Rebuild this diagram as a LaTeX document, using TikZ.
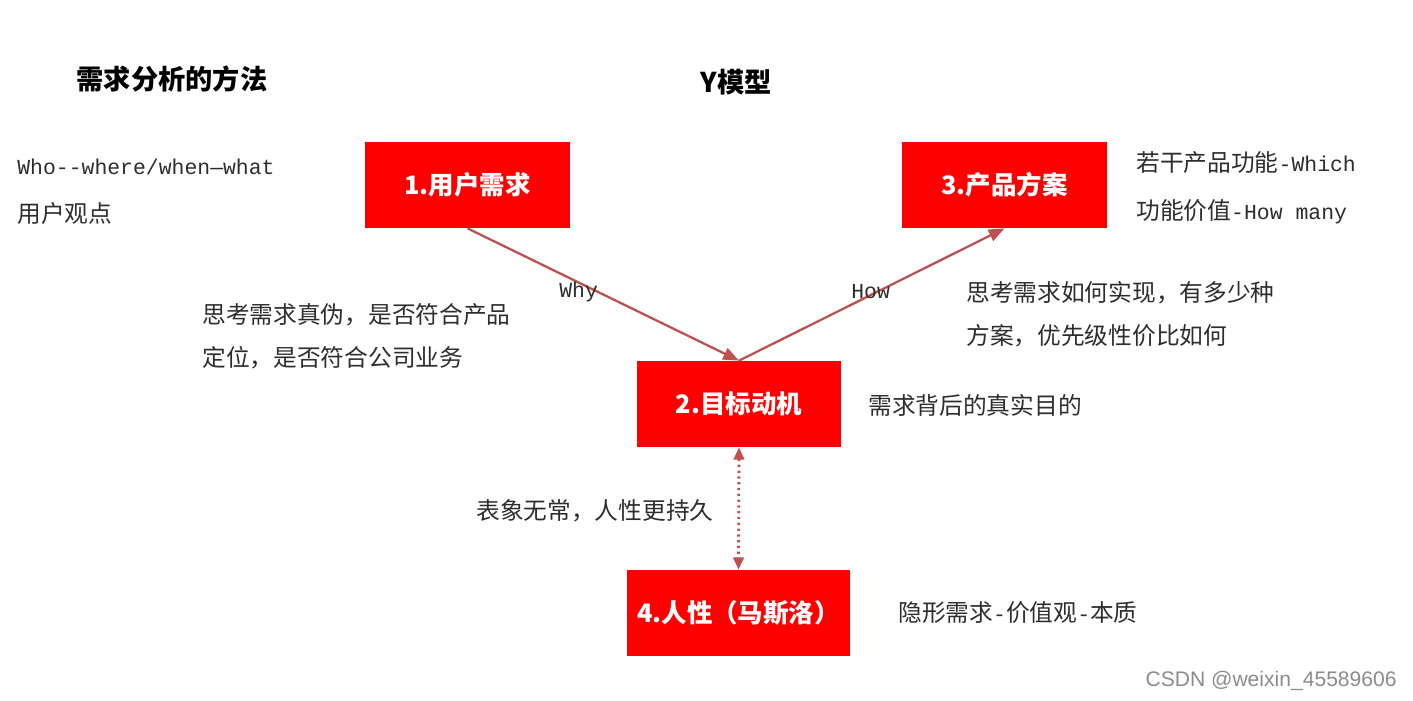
\documentclass[tikz,border=0pt]{standalone}
\usepackage{fontspec}
\usepackage{tikz}
\usetikzlibrary{arrows.meta,positioning}

\newfontfamily\cjk{Noto Sans CJK SC}
\newfontfamily\enmono{Liberation Mono}
\newfontfamily\wmfont{Liberation Sans}
\definecolor{boxred}{RGB}{255,0,0}
\definecolor{linkred}{RGB}{192,80,77}
\definecolor{note}{RGB}{45,45,45}
\newcommand{\en}[1]{{\enmono\fontsize{12.2pt}{24.4pt}\selectfont #1}}

\tikzset{
  stage/.style={fill=boxred, text=white, inner sep=0pt, minimum width=4.1cm, minimum height=1.72cm,
    font=\cjk\bfseries\fontsize{14.5pt}{17pt}\selectfont},
  heading/.style={font=\cjk\bfseries\fontsize{15.5pt}{18pt}\selectfont, inner sep=0pt},
  remark/.style={anchor=west, align=left, text=note, inner sep=0pt,
    font=\cjk\fontsize{13.5pt}{24.4pt}\selectfont},
  wide remark/.style={remark, font=\cjk\fontsize{13.5pt}{27.4pt}\selectfont},
  link/.style={linkred, line width=1.3pt},
}

\begin{document}
\begin{tikzpicture}[x=0.02cm, y=-0.02cm]
\useasboundingbox (0,0) rectangle (1413,700);

% Titles
\node[heading] (method) at (172,79) {需求分析的方法};
\node[heading] (ymodel) at (736,82) {Y模型};

% Stages of the Y model
\node[stage] (user)  at (467.5,185) {1.用户需求};
\node[stage] (goal)  at (739,404)   {2.目标动机};
\node[stage] (plan)  at (1004.5,185) {3.产品方案};
\node[stage, minimum width=4.46cm] (human) at (738.5,613) {4.人性（马斯洛）};

% Arrows
\draw[link, -{Triangle[length=9pt,width=7pt]}] (user.south) -- (goal.north);
\draw[link, -{Triangle[length=9pt,width=7pt]}] (goal.north) -- (plan.south);
\draw[link, dotted, line width=1.6pt, {Triangle[length=7pt,width=6pt]}-{Triangle[length=7pt,width=6pt]}] (goal.south) -- (human.north);

\node[remark] (why) at (559,292) {\en{Why}};
\node[remark] (how) at (851,292) {\en{How}};

% Notes
\node[wide remark] (who)   at (17,191.5) {\en{Who--where/when—what}\\用户观点};
\node[remark] (truth)      at (202,336)  {思考需求真伪，是否符合产品\\定位，是否符合公司业务};
\node[remark] (realize)    at (966,314)  {思考需求如何实现，有多少种\\方案，优先级性价比如何};
\node[wide remark] (which) at (1136,187.5) {若干产品功能\en{-Which}\\功能价值\en{-How many}};
\node[remark] (aim)        at (868,405)  {需求背后的真实目的};
\node[remark] (lasting)    at (476,511)  {表象无常，人性更持久};
\node[remark] (hidden)     at (898,613)  {隐形需求\en{-}价值观\en{-}本质};

% Watermark
\node[anchor=east, inner sep=0pt, text=black!45, font=\wmfont\fontsize{12pt}{14pt}\selectfont] (mark) at (1397,681) {CSDN @weixin\_45589606};
\end{tikzpicture}
\end{document}
